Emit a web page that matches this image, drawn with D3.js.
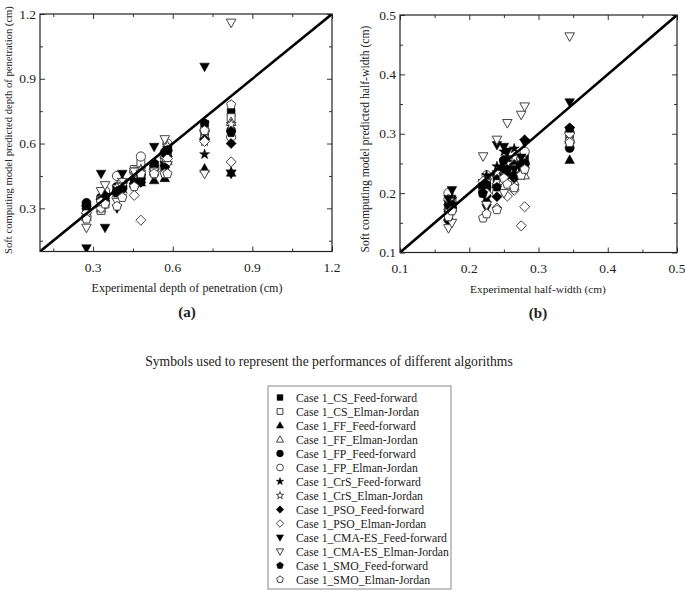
<!DOCTYPE html>
<html><head><meta charset="utf-8">
<script src="https://cdn.jsdelivr.net/npm/d3@7"></script>
<style>body{margin:0;background:#fff}svg text{font-family:"Liberation Serif","Times New Roman",serif;fill:#222}</style>
</head><body><svg id="c" width="685" height="591"></svg>
<script>
// ---- data ----
const seriesNames = ["Case 1_CS_Feed-forward","Case 1_CS_Elman-Jordan","Case 1_FF_Feed-forward","Case 1_FF_Elman-Jordan",
 "Case 1_FP_Feed-forward","Case 1_FP_Elman-Jordan","Case 1_CrS_Feed-forward","Case 1_CrS_Elman-Jordan",
 "Case 1_PSO_Feed-forward","Case 1_PSO_Elman-Jordan","Case 1_CMA-ES_Feed-forward","Case 1_CMA-ES_Elman-Jordan",
 "Case 1_SMO_Feed-forward","Case 1_SMO_Elman-Jordan"];
const symbolShapes = ["square","square","triangle","triangle","circle","circle","star","star","diamond","diamond","down","down","pentagon","pentagon"];
const symbolFilled = [true,false,true,false,true,false,true,false,true,false,true,false,true,false];

// (a) depth of penetration
const expDepth = [0.275, 0.33, 0.345, 0.39, 0.41, 0.455, 0.48, 0.53, 0.57, 0.58, 0.72, 0.82];
const predDepth = [
 [0.30, 0.34, 0.33, 0.37, 0.39, 0.42, 0.46, 0.50, 0.52, 0.55, 0.69, 0.745],
 [0.27, 0.29, 0.32, 0.36, 0.40, 0.48, 0.51, 0.47, 0.53, 0.56, 0.63, 0.72],
 [0.28, 0.32, 0.35, 0.38, 0.42, 0.43, 0.42, 0.43, 0.44, 0.52, 0.484, 0.465],
 [0.26, 0.30, 0.34, 0.39, 0.41, 0.45, 0.47, 0.50, 0.55, 0.58, 0.64, 0.70],
 [0.325, 0.35, 0.37, 0.40, 0.40, 0.41, 0.44, 0.50, 0.56, 0.57, 0.66, 0.66],
 [0.26, 0.34, 0.38, 0.45, 0.42, 0.47, 0.54, 0.46, 0.47, 0.60, 0.66, 0.63],
 [0.29, 0.33, 0.36, 0.38, 0.41, 0.43, 0.45, 0.49, 0.55, 0.56, 0.55, 0.47],
 [0.27, 0.31, 0.34, 0.40, 0.43, 0.46, 0.48, 0.50, 0.53, 0.59, 0.61, 0.69],
 [0.31, 0.34, 0.36, 0.38, 0.39, 0.40, 0.42, 0.48, 0.50, 0.54, 0.62, 0.60],
 [0.28, 0.30, 0.32, 0.35, 0.37, 0.36, 0.245, 0.47, 0.49, 0.53, 0.61, 0.515],
 [0.115, 0.46, 0.21, 0.30, 0.46, 0.42, 0.44, 0.585, 0.50, 0.57, 0.956, 0.46],
 [0.21, 0.38, 0.407, 0.33, 0.40, 0.47, 0.46, 0.47, 0.62, 0.50, 0.46, 1.16],
 [0.31, 0.33, 0.35, 0.37, 0.39, 0.41, 0.43, 0.51, 0.49, 0.57, 0.695, 0.65],
 [0.25, 0.33, 0.32, 0.31, 0.35, 0.40, 0.46, 0.46, 0.46, 0.46, 0.66, 0.78]
];

// (b) half-width
const expWidth = [0.17, 0.175, 0.22, 0.225, 0.24, 0.25, 0.255, 0.265, 0.275, 0.28, 0.345];
const predWidth = [
 [0.18, 0.19, 0.21, 0.20, 0.22, 0.25, 0.24, 0.23, 0.25, 0.26, 0.30],
 [0.17, 0.185, 0.20, 0.22, 0.21, 0.22, 0.24, 0.21, 0.24, 0.25, 0.295],
 [0.175, 0.18, 0.22, 0.19, 0.215, 0.245, 0.22, 0.25, 0.24, 0.255, 0.256],
 [0.16, 0.19, 0.21, 0.23, 0.22, 0.23, 0.25, 0.22, 0.26, 0.23, 0.29],
 [0.155, 0.18, 0.20, 0.21, 0.23, 0.255, 0.25, 0.23, 0.24, 0.25, 0.276],
 [0.20, 0.175, 0.21, 0.23, 0.20, 0.22, 0.22, 0.24, 0.26, 0.27, 0.287],
 [0.185, 0.19, 0.22, 0.23, 0.245, 0.27, 0.26, 0.275, 0.25, 0.245, 0.30],
 [0.17, 0.18, 0.205, 0.22, 0.235, 0.24, 0.25, 0.26, 0.23, 0.24, 0.30],
 [0.18, 0.175, 0.21, 0.195, 0.194, 0.24, 0.23, 0.225, 0.25, 0.29, 0.31],
 [0.19, 0.17, 0.22, 0.20, 0.175, 0.21, 0.195, 0.205, 0.145, 0.177, 0.30],
 [0.19, 0.205, 0.21, 0.175, 0.281, 0.278, 0.27, 0.24, 0.26, 0.285, 0.353],
 [0.141, 0.15, 0.262, 0.18, 0.29, 0.20, 0.318, 0.23, 0.332, 0.346, 0.464],
 [0.16, 0.18, 0.20, 0.215, 0.21, 0.255, 0.24, 0.23, 0.245, 0.25, 0.309],
 [0.16, 0.17, 0.158, 0.165, 0.172, 0.225, 0.215, 0.209, 0.23, 0.24, 0.285]
];

const depthTicks = [0.3, 0.6, 0.9, 1.2];
const depthMinor = [0.15, 0.45, 0.75, 1.05];
const widthTicks = [0.1, 0.2, 0.3, 0.4, 0.5];
const widthMinor = [0.15, 0.25, 0.35, 0.45];

// ---- drawing ----
const svg = d3.select("#c");

function fitText(sel, target) {
  const n = sel.node(); const w = n.getComputedTextLength(); const fs = parseFloat(sel.attr("font-size"));
  if (w > 0) sel.attr("font-size", (fs * target / w).toFixed(2));
}

function shapePath(kind, r) {
  if (kind === "square") { const s = r * 0.85; return `M${-s},${-s}H${s}V${s}H${-s}Z`; }
  if (kind === "circle") { return d3.symbol(d3.symbolCircle, Math.PI * r * r)(); }
  if (kind === "triangle") { const h = r * 1.1; return `M0,${-h}L${h*0.95},${h*0.7}L${-h*0.95},${h*0.7}Z`; }
  if (kind === "down") { const h = r * 1.1; return `M0,${h}L${h*0.95},${-h*0.7}L${-h*0.95},${-h*0.7}Z`; }
  if (kind === "diamond") { const s = r * 1.1; return `M0,${-s}L${s},0L0,${s}L${-s},0Z`; }
  if (kind === "star") {
    let p = ""; for (let i = 0; i < 10; i++) { const a = -Math.PI/2 + i*Math.PI/5; const rr = i%2 ? r*0.45 : r*1.15;
      p += (i ? "L" : "M") + (rr*Math.cos(a)).toFixed(2) + "," + (rr*Math.sin(a)).toFixed(2); } return p + "Z";
  }
  if (kind === "pentagon") {
    let p = ""; for (let i = 0; i < 5; i++) { const a = -Math.PI/2 + i*2*Math.PI/5; const rr = r*1.05;
      p += (i ? "L" : "M") + (rr*Math.cos(a)).toFixed(2) + "," + (rr*Math.sin(a)).toFixed(2); } return p + "Z";
  }
}

function drawMarker(g, kind, filled, x, y, r) {
  g.append("path").attr("d", shapePath(kind, r)).attr("transform", `translate(${x},${y})`)
    .attr("fill", filled ? "#000" : "#fff").attr("stroke", filled ? "#000" : "#444").attr("stroke-width", filled ? 0.5 : 1);
}

function panel(opt) {
  const x = d3.scaleLinear().domain(opt.dom).range([opt.x0, opt.x1]);
  const y = d3.scaleLinear().domain(opt.dom).range([opt.y1, opt.y0]);
  const g = svg.append("g");
  const clipId = "clip" + opt.id;
  svg.append("clipPath").attr("id", clipId).append("rect")
    .attr("x", opt.x0).attr("y", opt.y0).attr("width", opt.x1 - opt.x0).attr("height", opt.y1 - opt.y0);

  const mk = (axisFn, scale, vals, len) => axisFn(scale).tickValues(vals).tickSizeInner(-len).tickSizeOuter(0).tickFormat("");
  const axG = g.append("g");
  axG.append("g").attr("transform", `translate(0,${opt.y1})`).call(mk(d3.axisBottom, x, opt.ticksX, 5));
  axG.append("g").attr("transform", `translate(0,${opt.y1})`).call(mk(d3.axisBottom, x, opt.minor, 3));
  axG.append("g").attr("transform", `translate(0,${opt.y0})`).call(mk(d3.axisTop, x, opt.ticksX, 5));
  axG.append("g").attr("transform", `translate(0,${opt.y0})`).call(mk(d3.axisTop, x, opt.minor, 3));
  axG.append("g").attr("transform", `translate(${opt.x0},0)`).call(mk(d3.axisLeft, y, opt.ticksY, 5));
  axG.append("g").attr("transform", `translate(${opt.x0},0)`).call(mk(d3.axisLeft, y, opt.minor, 3));
  axG.append("g").attr("transform", `translate(${opt.x1},0)`).call(mk(d3.axisRight, y, opt.ticksY, 5));
  axG.append("g").attr("transform", `translate(${opt.x1},0)`).call(mk(d3.axisRight, y, opt.minor, 3));
  axG.selectAll(".domain").remove();
  axG.selectAll("line").attr("stroke", "#333").attr("stroke-width", 1);

  g.selectAll(".xl").data(opt.ticksX).join("text").attr("x", d => x(d)).attr("y", opt.y1 + 20)
    .attr("text-anchor", "middle").attr("font-size", 13.5).text(d => d.toFixed(1));
  g.selectAll(".yl").data(opt.ticksY).join("text").attr("x", opt.x0 - 4).attr("y", d => y(d) + 4.5)
    .attr("text-anchor", "end").attr("font-size", 13.5).text(d => d.toFixed(1));

  const pg = g.append("g").attr("clip-path", `url(#${clipId})`);
  opt.pred.forEach((vals, si) => {
    vals.forEach((v, i) => drawMarker(pg, symbolShapes[si], symbolFilled[si], x(opt.exp[i]), y(v), 4.6));
  });

  g.append("line").attr("clip-path", `url(#${clipId})`)
    .attr("x1", x(opt.dom[0])).attr("y1", y(opt.dom[0])).attr("x2", x(opt.dom[1])).attr("y2", y(opt.dom[1]))
    .attr("stroke", "#000").attr("stroke-width", 2.6);

  g.append("rect").attr("x", opt.x0).attr("y", opt.y0).attr("width", opt.x1 - opt.x0).attr("height", opt.y1 - opt.y0)
    .attr("fill", "none").attr("stroke", "#222").attr("stroke-width", 1.2);

  g.append("text").attr("x", opt.xlabCx).attr("y", opt.y1 + 40).attr("text-anchor", "middle").attr("font-size", 12.5)
    .text(opt.xlabel).call(fitText, opt.xlabW);
  g.append("text").attr("transform", `translate(${opt.ylabX},${opt.ylabCy}) rotate(-90)`).attr("text-anchor", "middle")
    .attr("font-size", 12.5).text(opt.ylabel).call(fitText, opt.ylabW);
  g.append("text").attr("x", opt.xlabCx).attr("y", opt.y1 + 65).attr("text-anchor", "middle").attr("font-size", 15)
    .attr("font-weight", "bold").text(opt.tag);
}

panel({id: "a", dom: [0.1, 1.2], x0: 40, x1: 332, y0: 14, y1: 251.5, ticksX: depthTicks, ticksY: depthTicks, minor: depthMinor,
  exp: expDepth, pred: predDepth, xlabel: "Experimental depth of penetration (cm)", xlabCx: 187, xlabW: 191,
  ylabel: "Soft computing model predicted depth of penetration (cm)", ylabX: 12, ylabCy: 130, ylabW: 248, tag: "(a)"});
panel({id: "b", dom: [0.1, 0.5], x0: 400, x1: 677, y0: 15, y1: 252.5, ticksX: widthTicks, ticksY: widthTicks, minor: widthMinor,
  exp: expWidth, pred: predWidth, xlabel: "Experimental half-width (cm)", xlabCx: 538, xlabW: 136,
  ylabel: "Soft computing model predicted half-width (cm)", ylabX: 369, ylabCy: 139, ylabW: 227, tag: "(b)"});

svg.append("text").attr("x", 329).attr("y", 366).attr("text-anchor", "middle").attr("font-size", 14)
  .text("Symbols used to represent the performances of different algorithms").call(fitText, 368);

const lg = svg.append("g");
lg.append("rect").attr("x", 268).attr("y", 386).attr("width", 183).attr("height", 203)
  .attr("fill", "#fff").attr("stroke", "#888").attr("stroke-width", 1);
seriesNames.forEach((name, i) => {
  const yy = 397.5 + i * 14;
  drawMarker(lg, symbolShapes[i], symbolFilled[i], 280, yy, 3.4);
  lg.append("text").attr("x", 296).attr("y", yy + 4.3).attr("font-size", 11.7).text(name);
});
</script></body></html>
